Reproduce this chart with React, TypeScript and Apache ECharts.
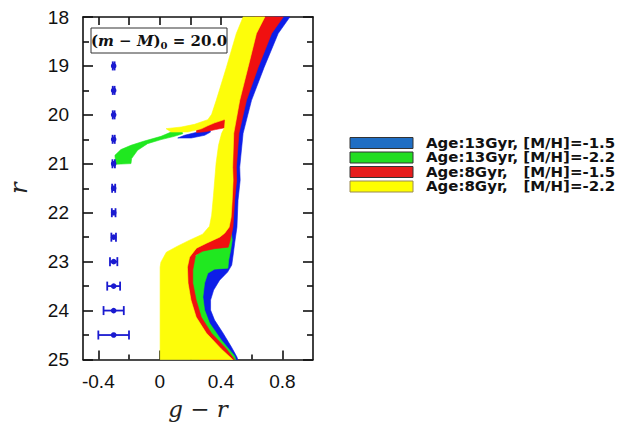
import React, { useEffect, useRef } from "react";
import * as echarts from "echarts";

// ---- data (g - r, r) ----
const blueMain: number[][] = [
  [0.849, 18.0], [0.773, 18.337], [0.681, 19.031], [0.599, 19.704], [0.544, 20.378], [0.522, 21.071],
  [0.525, 21.337], [0.511, 21.745], [0.504, 22.296], [0.489, 22.622], [0.479, 22.867], [0.47, 23.071],
  [0.443, 23.214], [0.391, 23.378], [0.352, 23.582], [0.332, 23.786], [0.332, 23.99], [0.358, 24.194],
  [0.413, 24.459], [0.468, 24.745], [0.504, 24.949], [0.509, 25.0], [0.424, 25.0], [0.37, 24.602],
  [0.26, 23.786], [0.26, 23.276], [0.424, 22.867], [0.443, 22.357], [0.456, 21.745], [0.47, 20.378],
  [0.522, 19.704], [0.62, 18.684], [0.751, 18.0],
];
const blueHB: number[][] = [
  [0.118, 20.473], [0.162, 20.418], [0.249, 20.351], [0.325, 20.302], [0.332, 20.351], [0.293, 20.418], [0.206, 20.473],
];
const greenMain: number[][] = [
  [0.463, 22.316], [0.473, 22.561], [0.463, 22.765], [0.45, 22.969], [0.445, 23.133], [0.358, 23.153],
  [0.314, 23.235], [0.293, 23.439], [0.282, 23.724], [0.293, 23.99], [0.325, 24.255], [0.402, 24.602],
  [0.489, 24.929], [0.496, 25.0], [0.43, 25.0], [0.404, 24.786], [0.306, 24.459], [0.24, 24.133],
  [0.208, 23.786], [0.188, 23.48], [0.195, 22.969], [0.293, 22.745], [0.404, 22.52], [0.443, 22.316],
];
const greenHB: number[][] = [
  [-0.292, 20.827], [-0.253, 20.71], [-0.187, 20.622], [-0.1, 20.535], [0.009, 20.439], [0.075, 20.351],
  [0.14, 20.302], [0.151, 20.384], [0.096, 20.439], [0.009, 20.506], [-0.079, 20.588], [-0.144, 20.724],
  [-0.183, 20.894], [-0.187, 20.996], [-0.286, 21.01],
];
const redMain: number[][] = [
  [0.806, 18.0], [0.73, 18.337], [0.642, 19.031], [0.566, 19.704], [0.517, 20.378], [0.5, 21.071],
  [0.502, 21.337], [0.489, 21.745], [0.478, 22.296], [0.46, 22.561], [0.447, 22.704], [0.358, 22.735],
  [0.28, 22.786], [0.234, 22.867], [0.216, 23.173], [0.216, 23.439], [0.238, 23.786], [0.271, 24.133],
  [0.337, 24.459], [0.435, 24.786], [0.489, 25.0], [0.26, 25.0], [0.096, 23.786], [0.096, 22.969],
  [0.26, 22.561], [0.391, 22.296], [0.42, 21.745], [0.44, 20.378], [0.46, 19.704], [0.509, 19.031], [0.62, 18.0],
];
const redHB: number[][] = [
  [0.24, 20.316], [0.312, 20.214], [0.365, 20.133], [0.417, 20.051], [0.427, 20.112], [0.424, 20.265],
  [0.365, 20.3], [0.299, 20.345], [0.24, 20.36],
];
const yellowMain: number[][] = [
  [0.544, 18.0], [0.686, 18.0], [0.631, 18.337], [0.576, 19.031], [0.522, 19.704], [0.483, 20.378],
  [0.476, 21.071], [0.479, 21.337], [0.473, 21.745], [0.466, 22.092], [0.453, 22.296], [0.424, 22.418],
  [0.391, 22.5], [0.306, 22.622], [0.24, 22.724], [0.195, 22.908], [0.181, 23.112], [0.185, 23.439],
  [0.204, 23.786], [0.238, 24.133], [0.304, 24.459], [0.402, 24.786], [0.476, 25.0], [0.003, 25.0],
  [0.003, 23.112], [0.008, 23.01], [0.044, 22.806], [0.116, 22.684], [0.195, 22.561], [0.28, 22.439],
  [0.325, 22.276], [0.339, 22.051], [0.351, 21.643], [0.368, 20.99], [0.384, 20.622], [0.404, 20.378],
  [0.424, 20.255], [0.427, 20.092], [0.358, 20.163], [0.312, 20.224], [0.271, 20.286], [0.183, 20.351],
  [0.075, 20.351], [0.042, 20.282], [0.14, 20.249], [0.227, 20.194], [0.314, 20.098], [0.339, 19.99],
  [0.369, 19.704], [0.435, 19.031], [0.5, 18.337],
];

// photometric error bars
const errR = [19, 19.5, 20, 20.5, 21, 21.5, 22, 22.5, 23, 23.5, 24, 24.5];
const errX = [-0.3, -0.3, -0.3, -0.3, -0.3, -0.3, -0.3, -0.3, -0.3, -0.3, -0.3, -0.3];
const errW = [0.006, 0.006, 0.006, 0.007, 0.008, 0.01, 0.012, 0.015, 0.024, 0.042, 0.066, 0.1];

const legendLabels = [
  "Age:13Gyr, [M/H]=-1.5",
  "Age:13Gyr, [M/H]=-2.2",
  "Age:8Gyr,   [M/H]=-1.5",
  "Age:8Gyr,   [M/H]=-2.2",
];
const xMajor = [-0.4, 0, 0.4, 0.8];
const xMinor = [-0.2, 0.2, 0.6];
const xTop = [-0.4, -0.2, 0, 0.2, 0.4, 0.6, 0.8];

const C_BLUE = "#0d1ee8";
const C_GREEN = "#20e820";
const C_RED = "#f01010";
const C_YELLOW = "#fdfd0a";
const LEG_COLORS = ["#1f6ec4", "#22dd22", "#e61c1c", "#ffff00"];
const LEG_BORDERS = ["#333", "#333", "#333", "#9a8a50"];

function polySeries(name: string, pts: number[][], color: string) {
  return {
    type: "custom",
    name,
    coordinateSystem: "cartesian2d",
    data: pts,
    encode: { x: 0, y: 1 },
    silent: true,
    renderItem: (params: any, api: any) => {
      if (params.dataIndex !== 0) return null;
      const points = pts.map((p) => api.coord(p));
      return { type: "polygon", shape: { points }, style: { fill: color, stroke: color, lineWidth: 0.6 } };
    },
  };
}

export default function App() {
  const ref = useRef<HTMLDivElement>(null);
  useEffect(() => {
    document.body.style.margin = "0";
    if (!ref.current) return;
    const chart = echarts.init(ref.current, null, { renderer: "svg" });
    const axisLine = { show: true, onZero: false, lineStyle: { color: "#111", width: 1.6 } };
    const tickStyle = { color: "#111", width: 1.6 };
    const common = { type: "value", min: -0.5, max: 1.0, splitLine: { show: false } };
    const errData = errR.map((r, i) => [errX[i], r, errW[i]]);

    const legendGraphics: any[] = [];
    legendLabels.forEach((lab, i) => {
      const cy = 143 + i * 14.5;
      legendGraphics.push({
        type: "rect",
        shape: { x: 350, y: cy - 5.5, width: 63, height: 11 },
        style: { fill: LEG_COLORS[i], stroke: LEG_BORDERS[i], lineWidth: 1 },
      });
      legendGraphics.push({
        type: "text",
        x: 426,
        y: cy,
        scaleX: 1.07,
        style: {
          text: lab,
          fill: "#111",
          font: "bold 14px 'DejaVu Sans'",
          verticalAlign: "middle",
          align: "left",
        },
      });
    });

    chart.setOption({
      animation: false,
      grid: { left: 83, top: 17, width: 230, height: 342.5, containLabel: false },
      xAxis: [
        {
          ...common,
          position: "bottom",
          axisLine,
          axisTick: { show: true, inside: true, length: 9, lineStyle: tickStyle, customValues: xMajor },
          axisLabel: {
            customValues: xMajor,
            color: "#111",
            fontSize: 19,
            fontFamily: "Liberation Sans",
            margin: 12,
            formatter: (v: number) => String(Math.round(v * 10) / 10),
          },
          name: "g − r",
          nameLocation: "middle",
          nameGap: 38,
          nameTextStyle: { fontFamily: "DejaVu Serif", fontStyle: "italic", fontSize: 23, color: "#222" },
        },
        {
          ...common,
          position: "bottom",
          axisLine: { show: false, onZero: false },
          axisTick: { show: true, inside: true, length: 5, lineStyle: tickStyle, customValues: xMinor },
          axisLabel: { show: false },
        },
        {
          ...common,
          position: "top",
          axisLine,
          axisTick: { show: true, inside: true, length: 8, lineStyle: tickStyle, customValues: xTop },
          axisLabel: { show: false },
        },
      ],
      yAxis: [
        {
          type: "value",
          min: 18,
          max: 25,
          interval: 1,
          inverse: true,
          position: "left",
          splitLine: { show: false },
          axisLine,
          axisTick: { show: true, inside: true, length: 10, lineStyle: tickStyle },
          minorTick: { show: true, splitNumber: 2, length: 6, lineStyle: tickStyle },
          axisLabel: { color: "#111", fontSize: 19, fontFamily: "Liberation Sans", margin: 14 },
          name: "r",
          nameLocation: "middle",
          nameGap: 52,
          nameRotate: 90,
          nameTextStyle: { fontFamily: "DejaVu Serif", fontStyle: "italic", fontSize: 24, color: "#222" },
        },
        {
          type: "value",
          min: 18,
          max: 25,
          interval: 1,
          inverse: true,
          position: "right",
          splitLine: { show: false },
          axisLine,
          axisTick: { show: true, inside: true, length: 10, lineStyle: tickStyle },
          minorTick: { show: true, splitNumber: 2, length: 6, lineStyle: tickStyle },
          axisLabel: { show: false },
        },
      ],
      series: [
        polySeries("13Gyr -1.5", blueMain, C_BLUE),
        polySeries("13Gyr -1.5 HB", blueHB, C_BLUE),
        polySeries("13Gyr -2.2", greenMain, C_GREEN),
        polySeries("13Gyr -2.2 HB", greenHB, C_GREEN),
        polySeries("8Gyr -1.5", redMain, C_RED),
        polySeries("8Gyr -1.5 HB", redHB, C_RED),
        polySeries("8Gyr -2.2", yellowMain, C_YELLOW),
        {
          type: "custom",
          name: "errors",
          coordinateSystem: "cartesian2d",
          data: errData,
          encode: { x: 0, y: 1 },
          renderItem: (params: any, api: any) => {
            const x = api.value(0);
            const y = api.value(1);
            const e = api.value(2);
            const a = api.coord([x - e, y]);
            const b = api.coord([x + e, y]);
            const c = api.coord([x, y]);
            const col = "#1a1ad0";
            const st = { stroke: col, lineWidth: 1.8 };
            const h = 4.5;
            return {
              type: "group",
              children: [
                { type: "line", shape: { x1: a[0], y1: a[1], x2: b[0], y2: b[1] }, style: st },
                { type: "line", shape: { x1: a[0], y1: a[1] - h, x2: a[0], y2: a[1] + h }, style: st },
                { type: "line", shape: { x1: b[0], y1: b[1] - h, x2: b[0], y2: b[1] + h }, style: st },
                { type: "circle", shape: { cx: c[0], cy: c[1], r: 2.8 }, style: { fill: col } },
              ],
            };
          },
        },
      ],
      graphic: [
        {
          type: "rect",
          shape: { x: 91, y: 28, width: 136, height: 25 },
          style: { fill: "#fff", stroke: "#333", lineWidth: 1 },
          z: 100,
        },
        {
          type: "text",
          x: 159,
          y: 41,
          z: 101,
          style: {
            text: "{p|(}{i|m − M}{p|)}{s|0}{p| = 20.0}",
            align: "center",
            verticalAlign: "middle",
            rich: {
              p: { font: "bold 15px 'DejaVu Serif'", fill: "#111" },
              i: { font: "italic bold 15px 'DejaVu Serif'", fill: "#111" },
              s: { font: "bold 10px 'DejaVu Serif'", fill: "#111", padding: [8, 0, 0, 0] },
            },
          },
        },
        ...legendGraphics,
      ],
    });
    return () => chart.dispose();
  }, []);
  return <div ref={ref} style={{ width: 628, height: 435 }} />;
}
